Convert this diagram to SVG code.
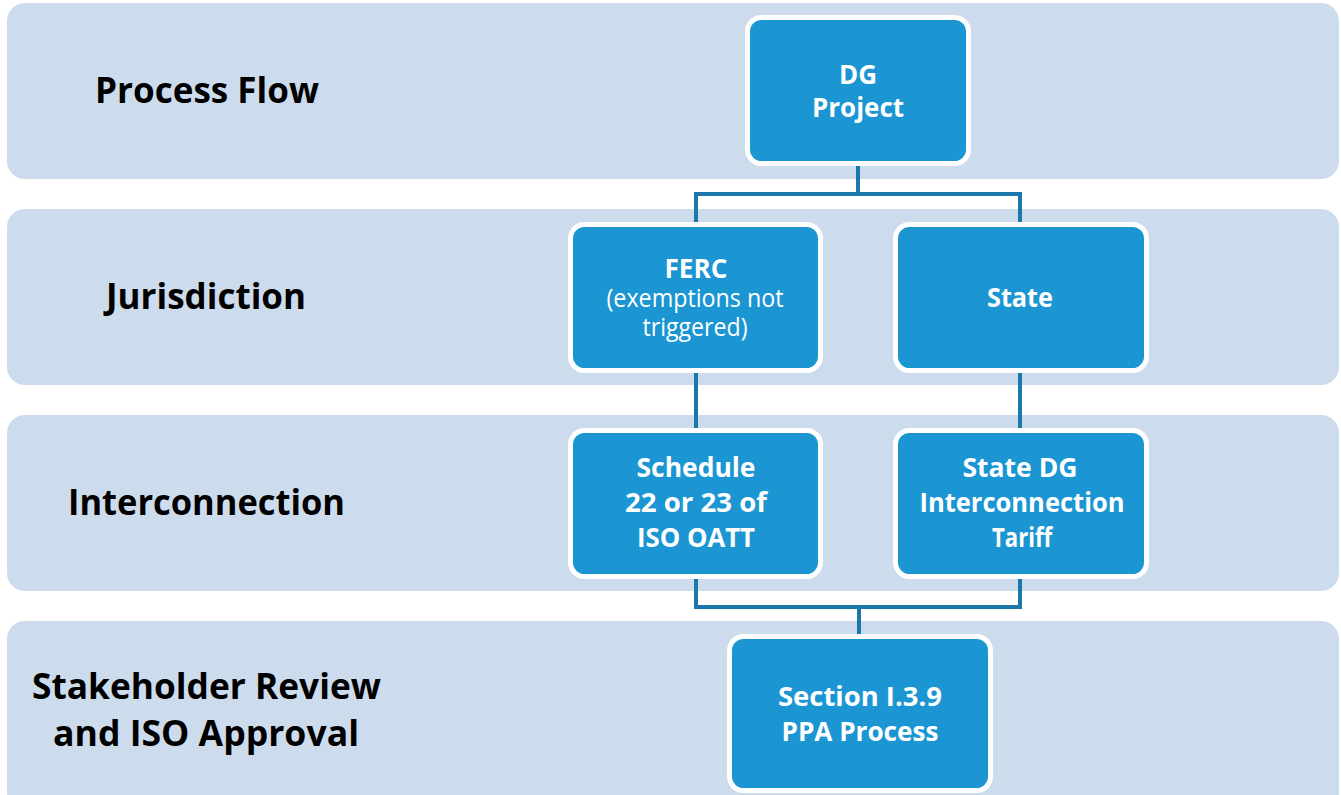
<svg xmlns="http://www.w3.org/2000/svg" width="1341" height="795" viewBox="0 0 1341 795">
<style>
.band{fill:#cddced}
.box{fill:#1b96d3;stroke:#ffffff;stroke-width:5}
.lbl{font-family:"Open Sans","Liberation Sans",sans-serif;font-weight:bold;font-size:35px;fill:#000000;text-anchor:start}
.bt{font-family:"Open Sans","Liberation Sans",sans-serif;font-weight:bold;font-size:26px;fill:#ffffff;text-anchor:middle}
.rt{font-family:"Open Sans","Liberation Sans",sans-serif;font-weight:normal;font-size:25px;fill:#ffffff;text-anchor:middle}
.conn{fill:none;stroke:#1a78aa;stroke-width:4;stroke-linejoin:miter}
</style>
<rect width="1341" height="795" fill="#ffffff"/>
<g id="bands">
<rect class="band" x="7" y="3" width="1332" height="176" rx="18"/>
<rect class="band" x="7" y="209" width="1332" height="176" rx="18"/>
<rect class="band" x="7" y="415" width="1332" height="176" rx="18"/>
<rect class="band" x="7" y="621" width="1332" height="190" rx="18"/>
</g>
<g id="row-labels">
<text class="lbl" x="95" y="103" textLength="224" lengthAdjust="spacingAndGlyphs">Process Flow</text>
<text class="lbl" x="106" y="309" textLength="200" lengthAdjust="spacingAndGlyphs">Jurisdiction</text>
<text class="lbl" x="68" y="515" textLength="277" lengthAdjust="spacingAndGlyphs">Interconnection</text>
<text class="lbl" x="32" y="699" textLength="349" lengthAdjust="spacingAndGlyphs">Stakeholder Review</text>
<text class="lbl" x="53" y="746" textLength="306" lengthAdjust="spacingAndGlyphs">and ISO Approval</text>
</g>
<g id="connectors">
<path class="conn" d="M858,166 V194 M696,222 V194 H1020 V222"/>
<path class="conn" d="M696,373 V428"/>
<path class="conn" d="M1020,373 V428"/>
<path class="conn" d="M696,579 V607 H1020 V579 M859,607 V634"/>
</g>
<g id="node-dg">
<rect class="box" x="747.5" y="17.5" width="221" height="146" rx="14"/>
<text class="bt" x="858" y="84" textLength="38" lengthAdjust="spacingAndGlyphs">DG</text>
<text class="bt" x="858" y="117" textLength="92" lengthAdjust="spacingAndGlyphs">Project</text>
</g>
<g id="node-ferc">
<rect class="box" x="570.5" y="224.5" width="250" height="146" rx="14"/>
<text class="bt" x="696" y="278" textLength="63" lengthAdjust="spacingAndGlyphs">FERC</text>
<text class="rt" x="695" y="307" textLength="177" lengthAdjust="spacingAndGlyphs">(exemptions not</text>
<text class="rt" x="695" y="336" textLength="105" lengthAdjust="spacingAndGlyphs">triggered)</text>
</g>
<g id="node-state">
<rect class="box" x="895.5" y="224.5" width="251" height="146" rx="14"/>
<text class="bt" x="1020" y="307" textLength="66" lengthAdjust="spacingAndGlyphs">State</text>
</g>
<g id="node-schedule">
<rect class="box" x="570.5" y="430.5" width="250" height="146" rx="14"/>
<text class="bt" x="696" y="477" textLength="119" lengthAdjust="spacingAndGlyphs">Schedule</text>
<text class="bt" x="696" y="512" textLength="142" lengthAdjust="spacingAndGlyphs">22 or 23 of</text>
<text class="bt" x="696" y="547" textLength="118" lengthAdjust="spacingAndGlyphs">ISO OATT</text>
</g>
<g id="node-statedg">
<rect class="box" x="895.5" y="430.5" width="251" height="146" rx="14"/>
<text class="bt" x="1020" y="477" textLength="115" lengthAdjust="spacingAndGlyphs">State DG</text>
<text class="bt" x="1022" y="512" textLength="205" lengthAdjust="spacingAndGlyphs">Interconnection</text>
<text class="bt" x="1022" y="547" textLength="60" lengthAdjust="spacingAndGlyphs">Tariff</text>
</g>
<g id="node-section">
<rect class="box" x="729.5" y="636.5" width="261" height="154" rx="14"/>
<text class="bt" x="860" y="706" textLength="164" lengthAdjust="spacingAndGlyphs">Section I.3.9</text>
<text class="bt" x="860" y="741" textLength="157" lengthAdjust="spacingAndGlyphs">PPA Process</text>
</g>
</svg>
